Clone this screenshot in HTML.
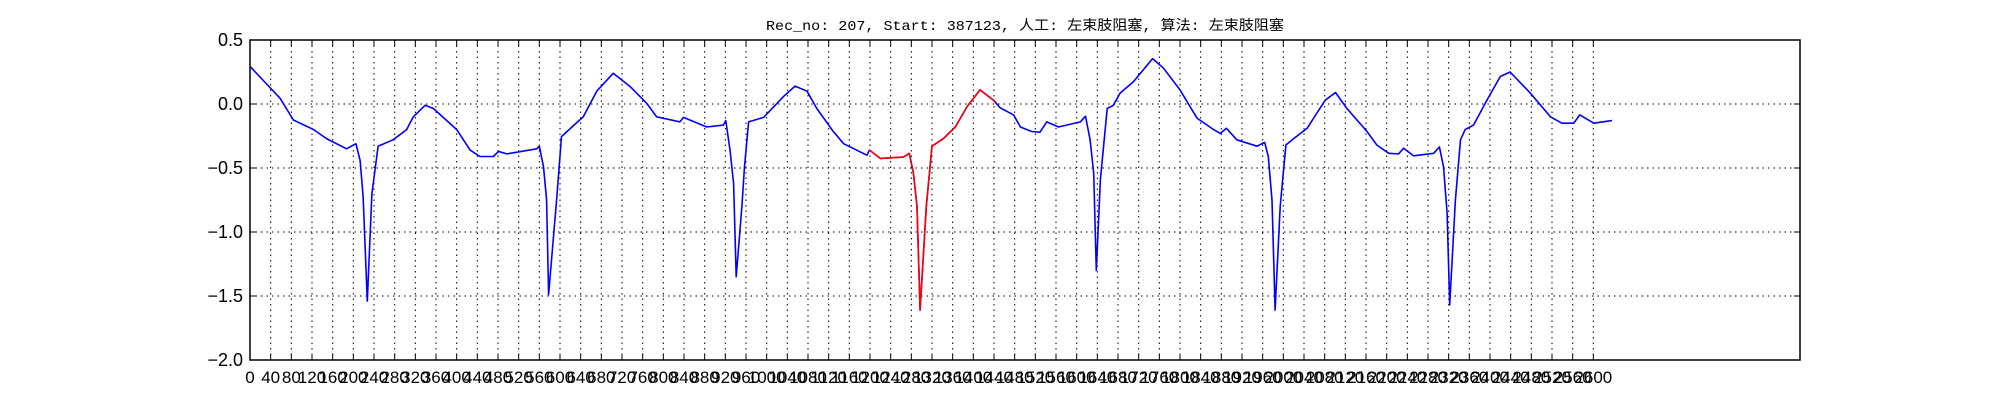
<!DOCTYPE html>
<html>
<head>
<meta charset="utf-8">
<style>
  html,body{margin:0;padding:0;background:#fff;}
  svg{display:block;}
  text{font-family:"Liberation Sans","DejaVu Sans",sans-serif;}
</style>
</head>
<body>
<svg id="chart" width="2000" height="400" viewBox="0 0 2000 400" xmlns="http://www.w3.org/2000/svg">
  <rect x="0" y="0" width="2000" height="400" fill="#fff"/>
  <text x="1025" y="30" text-anchor="middle" font-size="14" textLength="518" lengthAdjust="spacingAndGlyphs" style="font-family:'Liberation Mono','Noto Sans CJK SC',monospace" fill="#000">Rec_no: 207, Start: 387123, 人工: 左束肢阻塞, 算法: 左束肢阻塞</text>
  <g id="grid"></g>
  <g id="series"></g>
  <g id="axes"></g>
</svg>
<script>
// ---- data ----
const sampleIdx = [1,58,84,123,148,187,205,213,219,227,236,248,277,303,316,339,355,400,426,445,471,481,497,555,560,568,574,578,594,603,623,645,671,703,736,768,787,832,839,884,916,921,929,936,941,952,957,965,994,1033,1055,1078,1097,1129,1149,1194,1199,1220,1265,1276,1284,1291,1297,1309,1320,1342,1365,1388,1413,1439,1452,1478,1491,1513,1529,1542,1565,1607,1617,1626,1633,1638,1646,1659,1671,1684,1710,1747,1768,1800,1833,1865,1878,1890,1910,1949,1964,1971,1978,1984,1994,2005,2020,2046,2081,2101,2123,2162,2181,2204,2223,2233,2252,2291,2302,2310,2317,2322,2333,2343,2352,2368,2394,2420,2439,2478,2517,2539,2562,2574,2601,2636];
const ecgValues = [0.29,0.045,-0.125,-0.20,-0.27,-0.35,-0.31,-0.44,-0.72,-1.54,-0.70,-0.33,-0.28,-0.20,-0.10,-0.01,-0.035,-0.20,-0.36,-0.41,-0.41,-0.37,-0.39,-0.35,-0.33,-0.49,-0.75,-1.49,-0.72,-0.255,-0.18,-0.10,0.10,0.24,0.135,0.005,-0.10,-0.14,-0.105,-0.18,-0.165,-0.13,-0.36,-0.62,-1.35,-0.80,-0.49,-0.14,-0.105,0.06,0.14,0.10,-0.035,-0.215,-0.31,-0.40,-0.36,-0.425,-0.415,-0.385,-0.54,-0.80,-1.61,-0.80,-0.33,-0.27,-0.18,-0.02,0.11,0.03,-0.03,-0.085,-0.18,-0.215,-0.22,-0.14,-0.18,-0.14,-0.095,-0.28,-0.54,-1.30,-0.59,-0.035,-0.01,0.085,0.175,0.355,0.28,0.11,-0.11,-0.20,-0.23,-0.19,-0.28,-0.33,-0.30,-0.41,-0.75,-1.61,-0.80,-0.32,-0.27,-0.19,0.03,0.09,-0.035,-0.215,-0.32,-0.385,-0.39,-0.345,-0.405,-0.385,-0.335,-0.49,-0.85,-1.57,-0.75,-0.28,-0.20,-0.165,0.03,0.215,0.25,0.085,-0.10,-0.15,-0.15,-0.085,-0.15,-0.13];
const highlightRange = [1199, 1442];
const yTicks = [0.5,0.0,-0.5,-1.0,-1.5,-2.0];
const yTickLabels = ["0.5","0.0","\u22120.5","\u22121.0","\u22121.5","\u22122.0"];
const xTickStep = 40, xTickMax = 2600, xMax = 3000;

// ---- scales ----
const L=250,R=1800,T=40,B=360;
const xS = v => L + (v/xMax)*(R-L);
const yS = v => T + (0.5 - v)/2.5*(B-T);
const NS="http://www.w3.org/2000/svg";
function mk(tag, attrs, parent){const e=document.createElementNS(NS,tag);for(const k in attrs)e.setAttribute(k,attrs[k]);parent.appendChild(e);return e;}
const grid=document.getElementById('grid'), axes=document.getElementById('axes'), series=document.getElementById('series');

// grid + ticks
for(let t=0;t<=xTickMax;t+=xTickStep){
  const x=xS(t);
  const g=mk('line',{x1:x,x2:x,y1:T,y2:B,stroke:'#000','stroke-width':1,'stroke-dasharray':'1.5,4'},grid);
  
  
  mk('line',{x1:x,x2:x,y1:B,y2:B-6,stroke:'#000','stroke-width':1},axes);
  mk('line',{x1:x,x2:x,y1:T,y2:T+6,stroke:'#000','stroke-width':1},axes);
  const lb=mk('text',{x:x,y:383,'text-anchor':'middle','font-size':17,fill:'#000'},axes);
  lb.textContent=String(t);
  
  
}
yTicks.forEach((v,i)=>{
  const y=yS(v);
  const g=mk('line',{x1:L,x2:R,y1:y,y2:y,stroke:'#000','stroke-width':1,'stroke-dasharray':'1.5,4'},grid);
  
  
  mk('line',{x1:L,x2:L+6,y1:y,y2:y,stroke:'#000','stroke-width':1},axes);
  mk('line',{x1:R,x2:R-6,y1:y,y2:y,stroke:'#000','stroke-width':1},axes);
  const lb=mk('text',{x:243,y:y+6,'text-anchor':'end','font-size':18,fill:'#000'},axes);
  lb.textContent=yTickLabels[i];
  
  
});
const frame=mk('rect',{x:L,y:T,width:R-L,height:B-T,fill:'none',stroke:'#000','stroke-width':1.5},axes);



// series
function valAt(s){
  for(let i=0;i<sampleIdx.length-1;i++){
    if(s>=sampleIdx[i]&&s<=sampleIdx[i+1]){const f=(s-sampleIdx[i])/(sampleIdx[i+1]-sampleIdx[i]);return ecgValues[i]+f*(ecgValues[i+1]-ecgValues[i]);}
  }
  return ecgValues[ecgValues.length-1];
}
const full=sampleIdx.map((s,i)=>xS(s).toFixed(1)+','+yS(ecgValues[i]).toFixed(1)).join(' ');
const blue=mk('polyline',{points:full,fill:'none',stroke:'#0000ff','stroke-width':1.6,'stroke-linejoin':'round'},series);


const pts=[[highlightRange[0],valAt(highlightRange[0])]];
sampleIdx.forEach((s,i)=>{if(s>highlightRange[0]&&s<highlightRange[1])pts.push([s,ecgValues[i]]);});
pts.push([highlightRange[1],valAt(highlightRange[1])]);
const red=mk('polyline',{points:pts.map(p=>xS(p[0]).toFixed(1)+','+yS(p[1]).toFixed(1)).join(' '),fill:'none',stroke:'#ff0000','stroke-width':1.6,'stroke-linejoin':'round'},series);


</script>
</body>
</html>
